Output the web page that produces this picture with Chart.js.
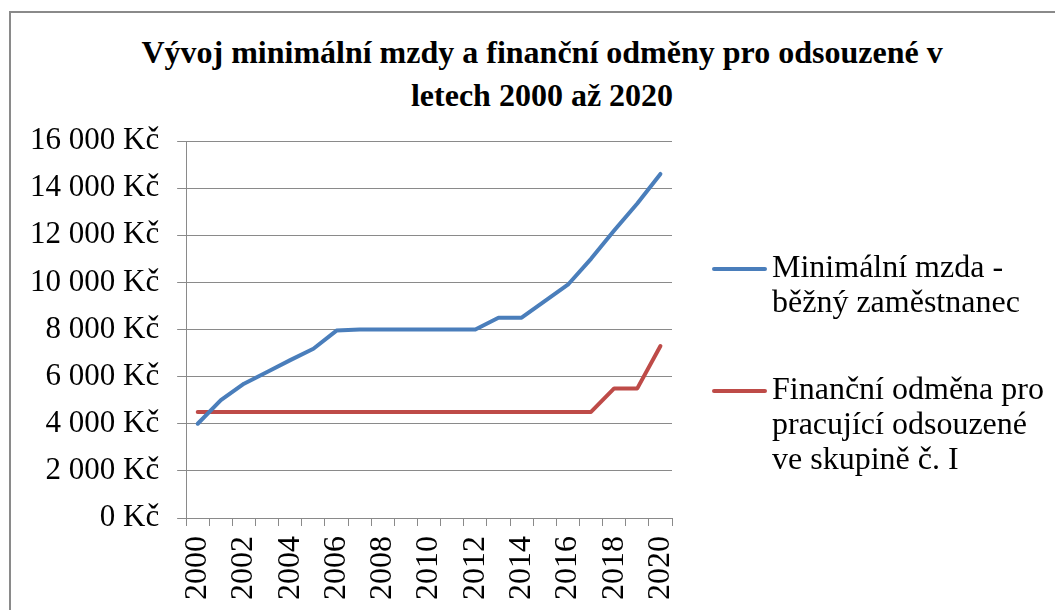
<!DOCTYPE html>
<html lang="cs">
<head>
<meta charset="utf-8">
<title>Vývoj minimální mzdy a finanční odměny</title>
<script src="https://cdn.jsdelivr.net/npm/chart.js@4.4.1/dist/chart.umd.min.js"></script>
<style>
    html, body {
        margin: 0;
        padding: 0;
        background: #ffffff;
    }
    body {
        width: 1055px;
        height: 610px;
        overflow: hidden;
        position: relative;
        font-family: "Liberation Serif", "Times New Roman", serif;
        color: #000000;
    }
    #ramecek {
        position: absolute;
        left: 9px;
        top: 11px;
        width: 1100px;
        height: 700px;
        border: 2px solid #8a8a8a;
    }
    #titulek {
        position: absolute;
        left: 0;
        top: 31px;
        width: 1084px;
        text-align: center;
        font-weight: bold;
        font-size: 32px;
        line-height: 43px;
    }
    #graf {
        position: absolute;
        left: 0;
        top: 0;
    }
    .legenda-polozka {
        position: absolute;
        left: 712px;
        font-size: 32px;
        line-height: 35px;
        white-space: nowrap;
    }
    .legenda-cara {
        position: absolute;
        left: 0;
        width: 55px;
        height: 4px;
        border-radius: 2px;
    }
    .legenda-text {
        position: absolute;
        left: 60px;
        top: 0;
    }
</style>
</head>
<body>
<div id="ramecek"></div>
<div id="titulek">Vývoj minimální mzdy a finanční odměny pro odsouzené v<br>letech 2000 až 2020</div>
<canvas id="graf" width="1055" height="610"></canvas>
<div id="legenda"></div>

<script>
// Roky 2000 až 2020
const roky = ["2000", "2001", "2002", "2003", "2004", "2005", "2006", "2007", "2008", "2009", "2010",
    "2011", "2012", "2013", "2014", "2015", "2016", "2017", "2018", "2019", "2020"];

// Minimální mzda - běžný zaměstnanec (Kč)
const minimalniMzda = [4000, 5000, 5700, 6200, 6700, 7185, 7955, 8000, 8000, 8000, 8000,
    8000, 8000, 8500, 8500, 9200, 9900, 11000, 12200, 13350, 14600];

// Finanční odměna pro pracující odsouzené ve skupině č. I (Kč)
const odmenaOdsouzeni = [4500, 4500, 4500, 4500, 4500, 4500, 4500, 4500, 4500, 4500, 4500,
    4500, 4500, 4500, 4500, 4500, 4500, 4500, 5500, 5500, 7300];

const nazvySerii = [
    ["Minimální mzda -", "běžný zaměstnanec"],
    ["Finanční odměna pro", "pracující odsouzené", "ve skupině č. I"]
];
const barvySerii = ["#4a7ebb", "#be4b48"];

// Popisky osy Y
const osaYMin = 0;
const osaYMax = 16000;
const osaYKrok = 2000;

function formatKc(hodnota) {
    return String(hodnota).replace(/\B(?=(\d{3})+(?!\d))/g, " ") + " Kč";
}

const seda = "#8a8a8a";
const pismo = "'Liberation Serif', 'Times New Roman', serif";

const ctx = document.getElementById("graf").getContext("2d");

const graf = new Chart(ctx, {
    type: "line",
    data: {
        labels: roky,
        datasets: [
            {
                label: nazvySerii[0].join(" "),
                data: minimalniMzda,
                borderColor: barvySerii[0],
                backgroundColor: barvySerii[0],
                borderWidth: 4,
                pointRadius: 0,
                tension: 0,
                borderJoinStyle: "round",
                borderCapStyle: "round"
            },
            {
                label: nazvySerii[1].join(" "),
                data: odmenaOdsouzeni,
                borderColor: barvySerii[1],
                backgroundColor: barvySerii[1],
                borderWidth: 4,
                pointRadius: 0,
                tension: 0,
                borderJoinStyle: "round",
                borderCapStyle: "round"
            }
        ]
    },
    options: {
        responsive: false,
        animation: false,
        layout: {
            // ticks.padding se pocita do sirky osy dvakrat
            padding: { left: 12, right: 383, top: 141, bottom: 0 }
        },
        plugins: {
            legend: { display: false },
            title: { display: false },
            tooltip: { enabled: false }
        },
        scales: {
            x: {
                type: "category",
                offset: true,
                grid: {
                    offset: true,
                    drawOnChartArea: false,
                    drawTicks: true,
                    tickLength: 8,
                    color: seda
                },
                border: { color: seda, width: 1 },
                ticks: {
                    autoSkip: false,
                    minRotation: 90,
                    maxRotation: 90,
                    padding: 10,
                    color: "#000000",
                    font: { family: pismo, size: 32 },
                    callback: function (hodnota, index) {
                        return index % 2 === 0 ? roky[index] : "";
                    }
                }
            },
            y: {
                min: osaYMin,
                max: osaYMax,
                grid: {
                    color: seda,
                    tickLength: 9
                },
                border: { color: seda, width: 1 },
                ticks: {
                    stepSize: osaYKrok,
                    padding: 18,
                    color: "#000000",
                    font: { family: pismo, size: 31 },
                    callback: function (hodnota) {
                        return formatKc(hodnota);
                    }
                }
            }
        }
    }
});

// Legenda vpravo od grafu
const legenda = document.getElementById("legenda");
const legendaTop = [249, 371];
graf.data.datasets.forEach(function (ds, i) {
    const polozka = document.createElement("div");
    polozka.className = "legenda-polozka";
    polozka.style.top = legendaTop[i] + "px";

    const cara = document.createElement("div");
    cara.className = "legenda-cara";
    cara.style.top = "18px";
    cara.style.background = ds.borderColor;
    polozka.appendChild(cara);

    const text = document.createElement("div");
    text.className = "legenda-text";
    text.innerHTML = nazvySerii[i].join("<br>");
    polozka.appendChild(text);

    legenda.appendChild(polozka);
});
</script>
</body>
</html>
